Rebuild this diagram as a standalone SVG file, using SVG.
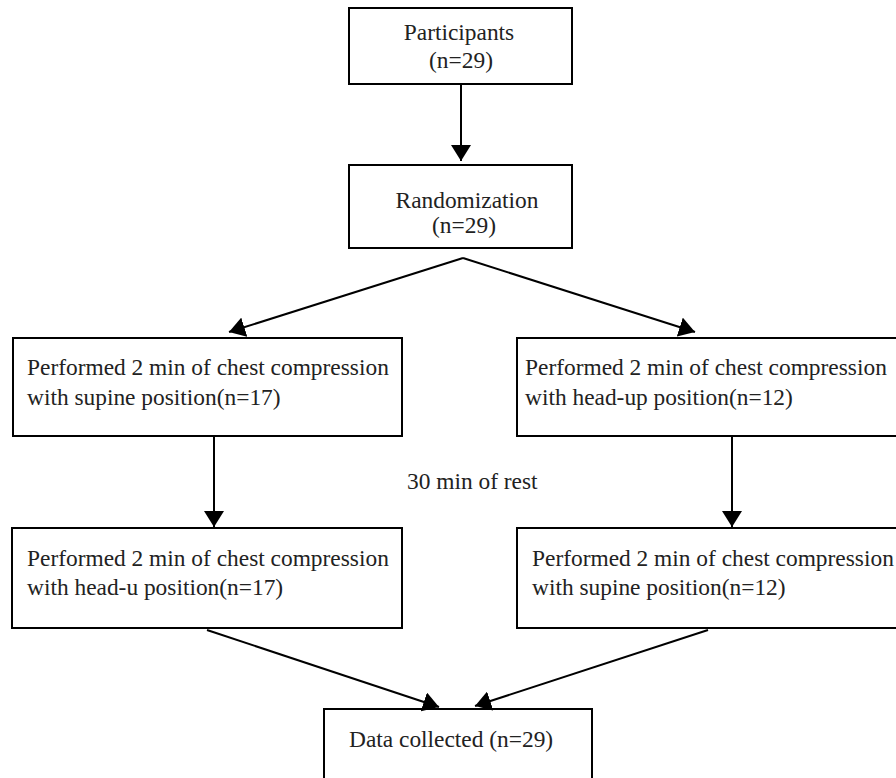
<svg xmlns="http://www.w3.org/2000/svg" width="896" height="778" viewBox="0 0 896 778">
  <defs>
    <marker id="arrow" markerUnits="userSpaceOnUse" markerWidth="18" markerHeight="20" refX="16" refY="10" orient="auto">
      <path d="M0,0 L16,10 L0,20 z" fill="#000"/>
    </marker>
    <style>
      .box { fill: #fff; stroke: #000; stroke-width: 2; }
      .t { font-family: "Liberation Serif", "Times New Roman", serif; font-size: 23.4px; fill: #222; }
      .c { text-anchor: middle; }
      .edge { stroke: #000; stroke-width: 2; fill: none; marker-end: url(#arrow); }
    </style>
  </defs>
  <rect width="896" height="778" fill="#fff"/>

  <g id="participants">
    <rect class="box" x="349" y="8" width="223" height="76"/>
    <text class="t c" x="459" y="40">Participants</text>
    <text class="t c" x="461" y="68">(n=29)</text>
  </g>

  <g id="randomization">
    <rect class="box" x="349" y="165" width="223" height="83"/>
    <text class="t c" x="467" y="208">Randomization</text>
    <text class="t c" x="464" y="233">(n=29)</text>
  </g>

  <g id="supine1">
    <rect class="box" x="13" y="338" width="389" height="98"/>
    <text class="t" x="27" y="375">Performed 2 min of chest compression</text>
    <text class="t" x="27" y="405">with supine position(n=17)</text>
  </g>

  <g id="headup1">
    <rect class="box" x="517" y="338" width="400" height="98"/>
    <text class="t" x="525" y="375">Performed 2 min of chest compression</text>
    <text class="t" x="525" y="405">with head-up position(n=12)</text>
  </g>

  <g id="headup2">
    <rect class="box" x="12" y="528" width="390" height="100"/>
    <text class="t" x="27" y="566">Performed 2 min of chest compression</text>
    <text class="t" x="27" y="595">with head-u position(n=17)</text>
  </g>

  <g id="supine2">
    <rect class="box" x="517" y="528" width="400" height="100"/>
    <text class="t" x="532" y="566">Performed 2 min of chest compression</text>
    <text class="t" x="532" y="595">with supine position(n=12)</text>
  </g>

  <g id="rest-label">
    <text class="t" x="407" y="489">30 min of rest</text>
  </g>

  <g id="data">
    <rect class="box" x="324" y="709" width="268" height="90"/>
    <text class="t" x="349" y="747">Data collected (n=29)</text>
  </g>

  <g id="connectors">
    <line class="edge" x1="461" y1="84" x2="461" y2="161"/>
    <line class="edge" x1="463" y1="258" x2="229" y2="332"/>
    <line class="edge" x1="463" y1="258" x2="695" y2="332"/>
    <line class="edge" x1="214" y1="436" x2="214" y2="527"/>
    <line class="edge" x1="732" y1="436" x2="732" y2="527"/>
    <line class="edge" x1="207" y1="630" x2="439" y2="707"/>
    <line class="edge" x1="708" y1="630" x2="475" y2="706"/>
  </g>
</svg>
